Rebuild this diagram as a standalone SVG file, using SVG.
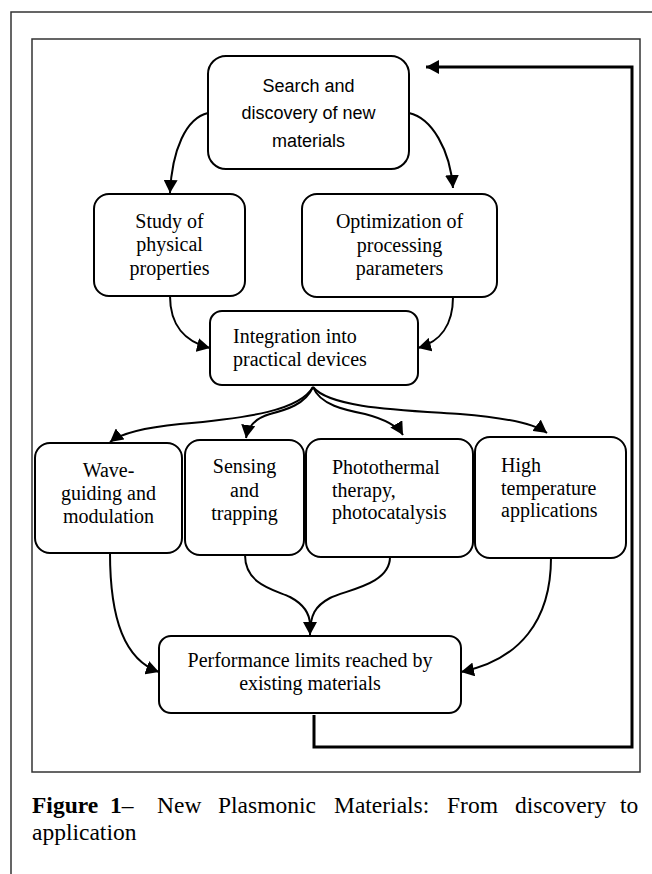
<svg xmlns="http://www.w3.org/2000/svg" width="652" height="874" viewBox="0 0 652 874">
<style>
.frame{fill:none;stroke:#333;stroke-width:1.5}
.box{fill:#fff;stroke:#000;stroke-width:2}
.t{font-family:"Liberation Serif","Times New Roman",serif;font-size:20px;fill:#000}
.c{text-anchor:middle}
.s{font-family:"Liberation Sans",Arial,sans-serif;font-size:18px;fill:#000;text-anchor:middle}
.cap{font-family:"Liberation Serif","Times New Roman",serif;font-size:23.5px;fill:#000}
.con{fill:none;stroke:#000;stroke-width:2}
.fb{fill:none;stroke:#000;stroke-width:3}
</style>
<defs>
<marker id="ah" markerUnits="userSpaceOnUse" markerWidth="14" markerHeight="14" refX="13" refY="7" orient="auto">
<path d="M0,0 L13,7 L0,14 z" fill="#000"/>
</marker>
</defs>
<rect width="652" height="874" fill="#fff"/>
<path class="frame" d="M11,874 L11,12 L652,12"/>
<rect class="frame" x="32" y="39" width="608" height="733"/>

<g id="n-search">
<rect class="box" x="208" y="56" width="201" height="113" rx="18"/>
<text class="s" x="308.5" y="92">Search and</text>
<text class="s" x="308.5" y="119">discovery of new</text>
<text class="s" x="308.5" y="147">materials</text>
</g>
<g id="n-study">
<rect class="box" x="94" y="194" width="151" height="102" rx="15"/>
<text class="t c" x="169.5" y="228">Study of</text>
<text class="t c" x="169.5" y="251">physical</text>
<text class="t c" x="169.5" y="275">properties</text>
</g>
<g id="n-optim">
<rect class="box" x="302" y="194" width="195" height="103" rx="15"/>
<text class="t c" x="399.5" y="228">Optimization of</text>
<text class="t c" x="399.5" y="252">processing</text>
<text class="t c" x="399.5" y="275">parameters</text>
</g>
<g id="n-integ">
<rect class="box" x="210" y="311" width="208" height="74" rx="12"/>
<text class="t" x="233" y="343">Integration into</text>
<text class="t" x="233" y="366">practical devices</text>
</g>
<g id="n-wave">
<rect class="box" x="35" y="443" width="147" height="110" rx="15"/>
<text class="t c" x="108.5" y="477">Wave-</text>
<text class="t c" x="108.5" y="500">guiding and</text>
<text class="t c" x="108.5" y="523">modulation</text>
</g>
<g id="n-sensing">
<rect class="box" x="185" y="440" width="119" height="115" rx="15"/>
<text class="t c" x="244.5" y="473">Sensing</text>
<text class="t c" x="244.5" y="497">and</text>
<text class="t c" x="244.5" y="520">trapping</text>
</g>
<g id="n-photo">
<rect class="box" x="306" y="439" width="167" height="118" rx="15"/>
<text class="t" x="332" y="474">Photothermal</text>
<text class="t" x="332" y="497">therapy,</text>
<text class="t" x="332" y="519">photocatalysis</text>
</g>
<g id="n-high">
<rect class="box" x="475" y="437" width="151" height="121" rx="15"/>
<text class="t" x="501" y="472">High</text>
<text class="t" x="501" y="495">temperature</text>
<text class="t" x="501" y="517">applications</text>
</g>
<g id="n-perf">
<rect class="box" x="159" y="636" width="302" height="77" rx="12"/>
<text class="t c" x="310" y="667">Performance limits reached by</text>
<text class="t c" x="310" y="690">existing materials</text>
</g>

<g id="connectors">
<path class="con" marker-end="url(#ah)" d="M208,113 C186,118 172,150 170,193"/>
<path class="con" marker-end="url(#ah)" d="M409,113 C432,118 450,150 453,188"/>
<path class="con" marker-end="url(#ah)" d="M170,296 C170,325 185,342 210,348"/>
<path class="con" marker-end="url(#ah)" d="M453,297 C453,325 440,342 418,348"/>
<path class="con" marker-end="url(#ah)" d="M313,387 C300,410 250,418 180,424 C140,428 120,434 110,442"/>
<path class="con" marker-end="url(#ah)" d="M313,387 C305,405 285,410 270,414 C256,418 248,426 246,438"/>
<path class="con" marker-end="url(#ah)" d="M313,387 C320,405 345,410 365,414 C384,419 397,425 403,435"/>
<path class="con" marker-end="url(#ah)" d="M313,387 C330,408 400,410 460,414 C510,418 535,424 547,433"/>
<path class="con" marker-end="url(#ah)" d="M110,553 C110,620 125,660 159,672"/>
<path class="con" marker-end="url(#ah)" d="M551,558 C551,620 520,660 461,672"/>
<path class="con" d="M245,555 C245,585 275,590 290,597 C305,605 310,615 310,625"/>
<path class="con" marker-end="url(#ah)" d="M390,557 C390,585 345,590 330,598 C315,606 310,615 310,635"/>
<path class="fb" marker-end="url(#ah)" d="M314,715 L314,747 L632,747 L632,67 L426,67"/>
</g>

<text class="cap" y="813"><tspan x="32" font-weight="bold">Figure</tspan><tspan x="110" font-weight="bold">1</tspan><tspan>–</tspan><tspan x="157">New</tspan><tspan x="218">Plasmonic</tspan><tspan x="334">Materials:</tspan><tspan x="447">From</tspan><tspan x="515">discovery</tspan><tspan x="620">to</tspan></text>
<text class="cap" x="32" y="840">application</text>
</svg>
